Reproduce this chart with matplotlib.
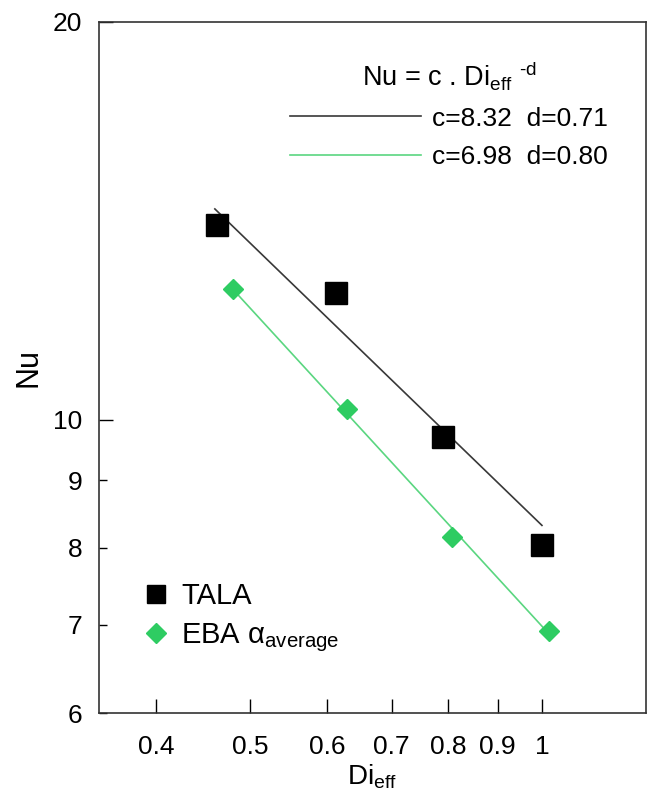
import matplotlib
matplotlib.use("Agg")
import matplotlib.pyplot as plt
import numpy as np
from matplotlib.lines import Line2D
from matplotlib.ticker import FixedLocator

plt.rcParams['font.family'] = ['Liberation Sans', 'DejaVu Sans']
plt.rcParams['mathtext.fontset'] = 'custom'
plt.rcParams['mathtext.rm'] = 'Liberation Sans'
plt.rcParams['mathtext.it'] = 'Liberation Sans:italic'

# data
tala_x = [0.462, 0.613, 0.790, 1.00]
tala_nu = [14.05, 12.48, 9.70, 8.04]
eba_x = [0.480, 0.630, 0.808, 1.017]
eba_nu = [12.55, 10.19, 8.15, 6.92]

# power law fits Nu = c * Di^-d
fit_tala = (8.32, 0.71)
fit_eba = (6.98, 0.80)

x_ticks = [0.4, 0.5, 0.6, 0.7, 0.8, 0.9, 1]
x_ticklabels = ['0.4', '0.5', '0.6', '0.7', '0.8', '0.9', '1']
y_major = [10, 20]
y_minor = [6, 7, 8, 9]

black_line = '#383838'
green_line = '#5ad680'
green_mark = '#2ecc62'

fig = plt.figure(figsize=(6.48, 7.99), dpi=100)
ax = fig.add_axes([0.1528, 0.1076, 0.8440, 0.8649])

xs = np.linspace(min(tala_x) - 0.002, max(tala_x), 50)
ax.plot(xs, fit_tala[0] * xs ** (-fit_tala[1]), color=black_line, lw=1.2)
xs2 = np.linspace(min(eba_x), max(eba_x), 50)
ax.plot(xs2, fit_eba[0] * xs2 ** (-fit_eba[1]), color=green_line, lw=1.2)

ax.plot(tala_x, tala_nu, 's', color='black', ms=15.5, ls='none')
ax.plot(eba_x, eba_nu, 'D', color=green_mark, ms=10.5, ls='none')

ax.set_xscale('log')
ax.set_yscale('log')
ax.set_xlim(0.3494, 1.28)
ax.set_ylim(6, 20)

ax.xaxis.set_major_locator(FixedLocator(x_ticks))
ax.set_xticklabels(x_ticklabels)
ax.xaxis.set_minor_locator(FixedLocator([]))
ax.yaxis.set_major_locator(FixedLocator(y_major))
ax.set_yticklabels([str(v) for v in y_major])
ax.yaxis.set_minor_locator(FixedLocator(y_minor))
ax.set_yticklabels([str(v) for v in y_minor], minor=True)

ax.tick_params(axis='x', which='major', direction='in', length=10, width=1,
               labelsize=19, pad=16, top=False)
ax.tick_params(axis='y', which='major', direction='in', length=10, width=1,
               labelsize=19, pad=12, right=False)
ax.tick_params(axis='y', which='minor', direction='in', length=6, width=1,
               labelsize=19, pad=12, right=False)

for s in ax.spines.values():
    s.set_linewidth(1.2)
    s.set_color('#333333')

ax.set_xlabel(r'Di$_{\mathrm{eff}}$', fontsize=20, labelpad=2)
ax.set_ylabel('Nu', fontsize=22, labelpad=7)

h1 = [Line2D([], [], color=black_line, lw=1.2),
      Line2D([], [], color=green_line, lw=1.2)]
l1 = ['c=%.2f  d=%.2f' % fit_tala, 'c=%.2f  d=%.2f' % fit_eba]
leg1 = ax.legend(h1, l1, title=r'Nu = c . Di$_{\mathrm{eff}}$ $^{\text{-d}}$',
                 loc='upper left', bbox_to_anchor=(290 / 648, 1 - 59 / 799),
                 bbox_transform=fig.transFigure, frameon=False, fontsize=19,
                 title_fontsize=19.5, handlelength=4.95, handletextpad=0.45,
                 labelspacing=0.55, borderpad=0, borderaxespad=0)
ax.add_artist(leg1)

h2 = [Line2D([], [], marker='s', color='black', ms=13.5, ls='none'),
      Line2D([], [], marker='D', color=green_mark, ms=10.5, ls='none')]
l2 = ['TALA', r'EBA α$_{\mathrm{average}}$']
ax.legend(h2, l2, loc='upper left', bbox_to_anchor=(143 / 648, 1 - 582 / 799),
          bbox_transform=fig.transFigure, frameon=False, fontsize=21,
          handlelength=0.9, handletextpad=0.4, labelspacing=0.38,
          borderpad=0, borderaxespad=0)

fig.savefig('out.png', dpi=100)
